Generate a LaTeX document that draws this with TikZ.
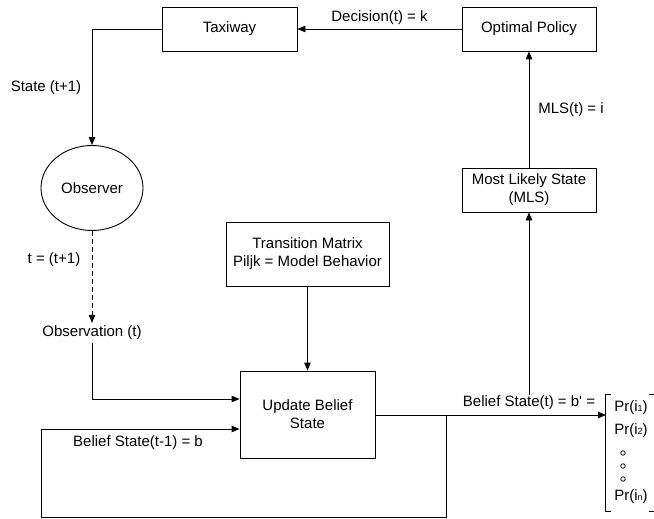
\documentclass[tikz,border=0pt]{standalone}
\usepackage{fontspec}
\setmainfont{Liberation Sans}
\usetikzlibrary{arrows.meta,shapes.geometric}
\begin{document}
\begin{tikzpicture}[x=1pt,y=-1pt,
  font=\fontsize{15}{18}\selectfont,
  box/.style={draw,line width=0.9pt,rectangle,align=center,inner sep=0pt},
  lbl/.style={inner sep=1pt,align=center},
  conn/.style={line width=0.9pt},
  arr/.style={conn,-{Triangle[length=8pt,width=6.5pt]}},
  dot/.style={draw,circle,line width=0.8pt,minimum size=4.5pt,inner sep=0pt}]
\useasboundingbox (0,0) rectangle (654,519);
% nodes
\node[box,minimum width=135pt,minimum height=44pt] (taxi) at (229.5,29) {Taxiway};
\node[box,minimum width=134pt,minimum height=44pt] (opt) at (529,29) {Optimal Policy};
\node[box,minimum width=134pt,minimum height=44pt] (mls) at (529,190) {Most Likely State\\(MLS)};
\node[box,minimum width=163pt,minimum height=64pt] (trans) at (307.5,254) {Transition Matrix\\Piljk = Model Behavior};
\node[box,minimum width=135pt,minimum height=87pt] (upd) at (307.5,414.5) {Update Belief\\State};
\node[draw,ellipse,line width=0.9pt,minimum width=102pt,minimum height=85pt,inner sep=0pt] (obs) at (92,188) {Observer};
\node[lbl,inner sep=3pt] (obst) at (92,333) {Observation (t)};
\node[lbl] (bs) at (529,403) {Belief State(t) = b\textquotesingle{} =};
% matrix
\coordinate (bl) at (606,415);
\draw[line width=0.9pt] (611,394) -- (605,394) -- (605,511) -- (611,511);
\draw[line width=0.9pt] (649,394) -- (654,394);
\draw[line width=0.9pt] (649,511) -- (654,511);
\newcommand{\smallsub}[1]{{\fontsize{9}{9}\selectfont #1}}
\node[lbl] (p1) at (631,408) {Pr(i\smallsub{1})};
\node[lbl] (p2) at (631,431) {Pr(i\smallsub{2})};
\node[dot] (d1) at (623,453) {};
\node[dot] (d2) at (623,466) {};
\node[dot] (d3) at (623,479) {};
\node[lbl] (pn) at (631,497) {Pr(i\smallsub{n})};
% connectors
\draw[arr] (opt.west) -- (taxi.east) node[lbl,midway,above=3pt] (dec) {Decision(t) = k};
\coordinate (tk) at (92,29);
\draw[arr] (taxi.west) -- (tk) -- (obs.north);
\node[lbl] (st) at (46,88) {State (t+1)};
\draw[arr,dashed,dash pattern=on 5pt off 3pt] (obs.south) -- (obst.north);
\node[lbl] (tt) at (54,260) {t = (t+1)};
\coordinate (oc) at (92,399);
\draw[arr] (obst.south) -- (oc) -- (upd.west |- oc);
\draw[arr] (trans.south) -- (upd.north);
\coordinate (ue) at (upd.east |- bl);
\coordinate (j1) at (446,415);
\coordinate (j2) at (446,517.5);
\coordinate (j3) at (41,517.5);
\coordinate (j4) at (41,429);
\draw[arr] (ue) -- (bl);
\draw[arr] (j1) -- (j2) -- (j3) -- (j4) -- (upd.west |- j4);
\node[lbl] (bprev) at (138,443) {Belief State(t-1) = b};
\draw[arr] (bs.north) -- (mls.south);
\draw[arr] (mls.north) -- (opt.south);
\node[lbl] (mlst) at (571,110) {MLS(t) = i};
\end{tikzpicture}
\end{document}
